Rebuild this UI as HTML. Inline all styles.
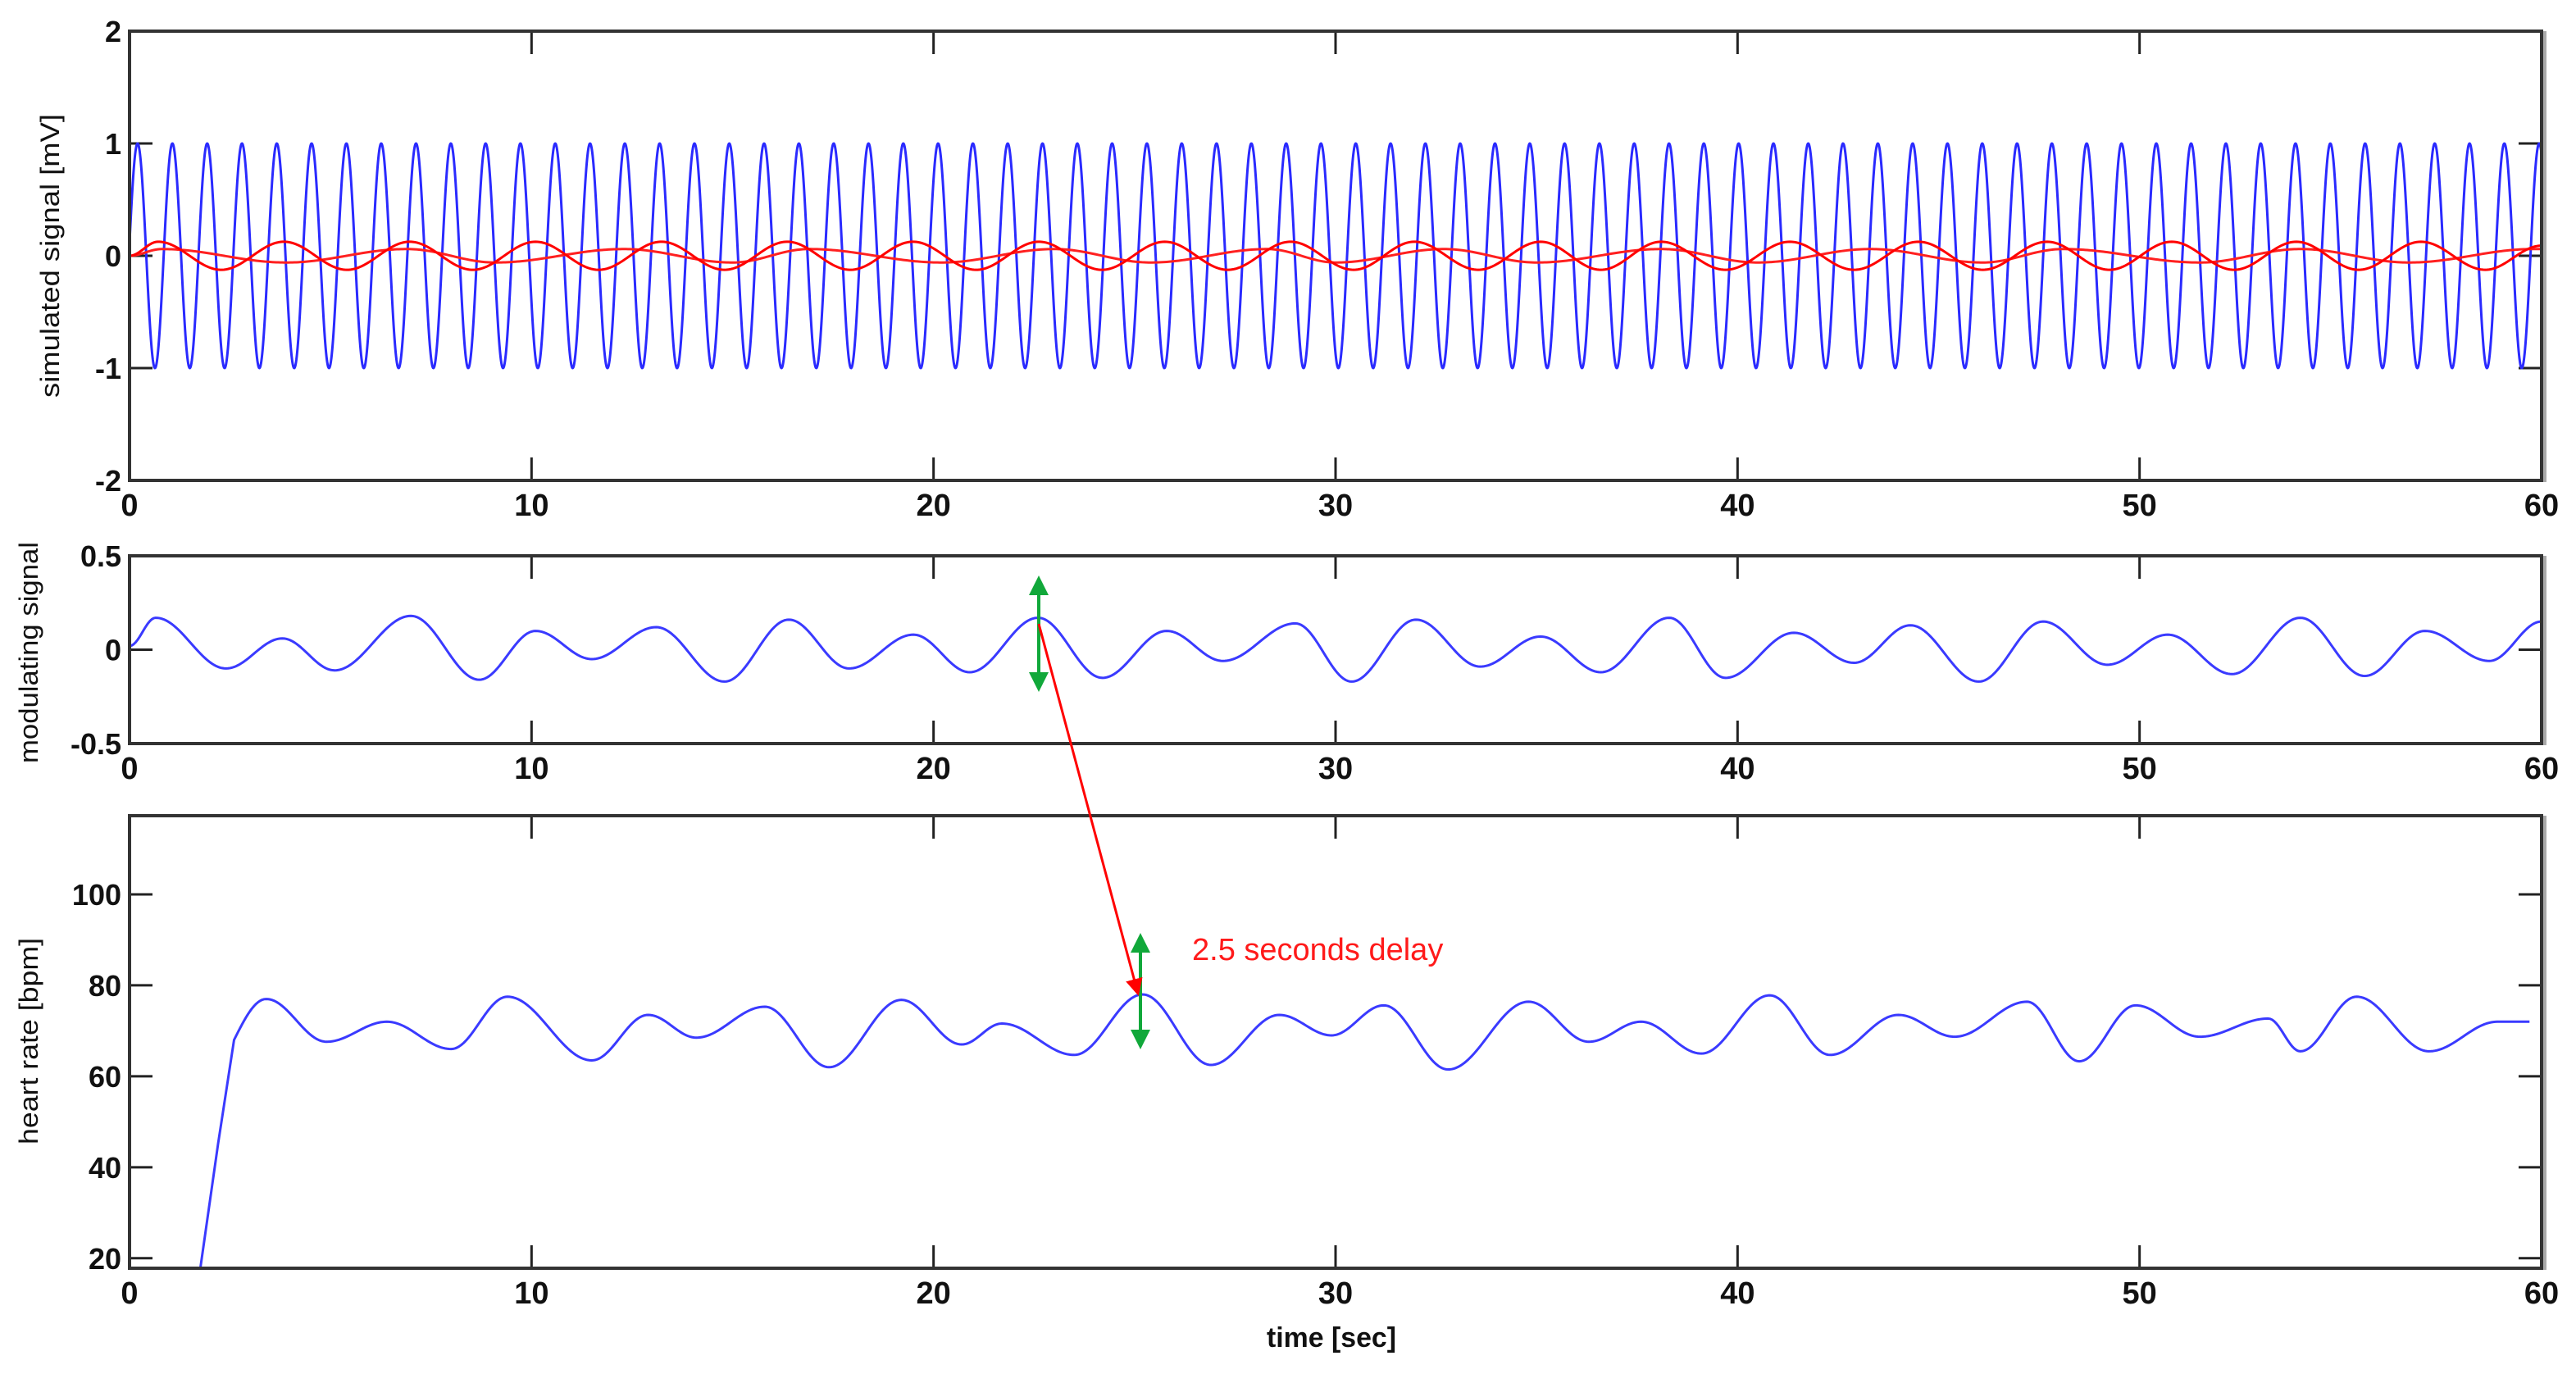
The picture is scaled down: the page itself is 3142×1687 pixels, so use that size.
<!DOCTYPE html>
<html><head><meta charset="utf-8"><style>
html,body{margin:0;padding:0;background:#fff;}
svg{display:block;}
text{font-family:"Liberation Sans",Arial,sans-serif;}
</style></head><body>
<svg id="chart" width="3142" height="1687" viewBox="0 0 3142 1687" xmlns="http://www.w3.org/2000/svg">
<rect width="3142" height="1687" fill="#fff"/>
<g id="g1"></g>
<g id="g2"></g>
<g id="g3"></g>
<g id="ann"></g>
</svg>
<script>
// ---------- data ----------
const xTicks = [0,10,20,30,40,50,60];
const yTicks1 = [2,1,0,-1,-2];
const yTicks2 = [0.5,0,-0.5];
const yTicks3 = [100,80,60,40,20];
// blue carrier parameters
const carrierFreqHz = [1.155];
const carrierPeakTime = [0.2];
const carrierAmp = [1.0];
// red component A (fast) extrema
const redAT = [0,0.71,2.28,3.84,5.41,6.97,8.54,10.1,11.67,13.23,14.8,16.36,17.93,19.49,21.06,22.62,24.19,25.75,27.32,28.88,30.45,31.96,33.55,35.1,36.6,38.1,39.7,41.3,42.9,44.5,46.1,47.7,49.25,50.8,52.35,53.9,55.45,57.0,58.6,60];
const redAV = [0,0.125,-0.125,0.125,-0.125,0.125,-0.125,0.125,-0.125,0.125,-0.125,0.125,-0.125,0.125,-0.125,0.125,-0.125,0.125,-0.125,0.125,-0.125,0.125,-0.125,0.125,-0.125,0.125,-0.125,0.125,-0.125,0.125,-0.125,0.125,-0.125,0.125,-0.125,0.125,-0.125,0.125,-0.125,0.09];
// red component B (slow) extrema
const redBT = [0,0.8,3.9,6.9,9.1,12.3,15.0,16.9,20.2,23.0,25.4,28.3,30.0,32.7,35.0,38.1,40.5,43.3,46.1,48.1,51.5,54.0,56.7,59.8,60];
const redBV = [0,0.06,-0.06,0.06,-0.06,0.06,-0.06,0.06,-0.06,0.06,-0.06,0.06,-0.06,0.06,-0.06,0.06,-0.06,0.06,-0.06,0.06,-0.06,0.06,-0.06,0.06,0.06];
// modulating signal extrema
const modT = [0,0.65,2.4,3.8,5.1,7.0,8.7,10.1,11.5,13.1,14.8,16.4,17.9,19.5,20.9,22.6,24.2,25.8,27.2,29.0,30.4,32.0,33.6,35.1,36.6,38.3,39.7,41.4,42.9,44.3,46.0,47.6,49.2,50.7,52.3,54.0,55.6,57.1,58.7,60];
const modV = [0.02,0.17,-0.1,0.06,-0.11,0.18,-0.16,0.1,-0.05,0.12,-0.17,0.16,-0.1,0.08,-0.12,0.17,-0.15,0.1,-0.06,0.14,-0.17,0.16,-0.09,0.07,-0.12,0.17,-0.15,0.09,-0.07,0.13,-0.17,0.15,-0.08,0.08,-0.13,0.17,-0.14,0.1,-0.06,0.15];
// heart rate points
const hrT = [1.7,2.2,2.6,3.4,4.9,6.4,8.0,9.4,11.5,12.9,14.1,15.8,17.4,19.2,20.7,21.7,23.5,25.2,26.9,28.6,29.9,31.2,32.8,34.8,36.3,37.6,39.1,40.8,42.3,44.0,45.4,47.2,48.5,49.9,51.5,53.2,54.0,55.4,57.2,58.9,59.7];
const hrV = [14,45,68,77,67.6,72,66,77.5,63.5,73.5,68.5,75.3,62,76.8,67,71.6,64.7,78,62.5,73.5,69,75.6,61.5,76.4,67.6,72,65,77.8,64.7,73.5,68.7,76.4,63.3,75.6,68.7,72.7,65.5,77.5,65.5,72,72];

// ---------- layout ----------
const X0=158, X1=3100;
const P1={top:38,bottom:586,ymin:-2,ymax:2};
const P2={top:678,bottom:907,ymin:-0.5,ymax:0.5};
const P3={top:995,bottom:1547,ymin:17.8,ymax:117.3};
const NS="http://www.w3.org/2000/svg";
const xs=t=>X0+(t-0)/(60-0)*(X1-X0);
const ysF=P=>v=>P.bottom-(v-P.ymin)/(P.ymax-P.ymin)*(P.bottom-P.top);

function mk(tag,attrs,parent){const e=document.createElementNS(NS,tag);for(const k in attrs)e.setAttribute(k,attrs[k]);parent.appendChild(e);return e;}

function interp(T,V,t,mode){
  if(t<=T[0])return V[0];
  for(let i=0;i<T.length-1;i++){
    if(t<=T[i+1]){const f=(t-T[i])/(T[i+1]-T[i]);
      const m=mode?mode(i):'cos';
      if(m==='lin')return V[i]+(V[i+1]-V[i])*f;
      if(m==='easeOut')return V[i]+(V[i+1]-V[i])*Math.sin(Math.PI/2*f);
      const g=(1-Math.cos(Math.PI*f))/2;return V[i]+(V[i+1]-V[i])*g;}
  }
  return V[V.length-1];
}

function axes(g,P,yTicks,yFmt,name){
  const ys=ysF(P);
  const clip=mk('clipPath',{id:'c'+name},g);
  mk('rect',{x:X0,y:P.top,width:X1-X0,height:P.bottom-P.top},clip);
  xTicks.forEach(t=>{
    const x=xs(t);
    const tk=mk('line',{x1:x,y1:P.bottom,x2:x,y2:P.bottom-28,stroke:'#222','stroke-width':3},g);
    
    
    const tk2=mk('line',{x1:x,y1:P.top,x2:x,y2:P.top+28,stroke:'#222','stroke-width':3},g);
    
    
    const lb=mk('text',{x:x,y:P.bottom+43,'text-anchor':'middle','font-size':38,'font-weight':'bold',fill:'#111'},g);
    lb.textContent=t;
    
    
  });
  yTicks.forEach(v=>{
    const y=ys(v);
    const tk=mk('line',{x1:X0,y1:y,x2:X0+28,y2:y,stroke:'#222','stroke-width':3},g);
    
    
    const tk2=mk('line',{x1:X1,y1:y,x2:X1-28,y2:y,stroke:'#222','stroke-width':3},g);
    
    
    const lb=mk('text',{x:X0-10,y:y+13,'text-anchor':'end','font-size':36,'font-weight':'bold',fill:'#111'},g);
    lb.textContent=yFmt(v);
    
    
  });
  return ys;
}
function frame(g,P){
  const r=mk('rect',{x:X0,y:P.top,width:X1-X0,height:P.bottom-P.top,fill:'none',stroke:'#333','stroke-width':4},g);
  
  
  const s=mk('line',{x1:X1+4,y1:P.top,x2:X1+4,y2:P.bottom+2,stroke:'#aaa','stroke-width':4},g);
  
  
}
function curve(g,fn,t0,t1,dt,ys,color,w,name,clipId){
  let d='';
  for(let t=t0;t<=t1+1e-9;t+=dt){d+=(d?'L':'M')+xs(t).toFixed(2)+','+ys(fn(t)).toFixed(2);}
  const p=mk('path',{d:d,fill:'none',stroke:color,'stroke-width':w,'stroke-linejoin':'round','clip-path':'url(#'+clipId+')'},g);
  
  
}
function ylabel(g,txt,cx,cy,len,name){
  const t=mk('text',{x:0,y:0,transform:'translate('+cx+','+cy+') rotate(-90)','text-anchor':'middle','font-size':32,fill:'#111',textLength:len,lengthAdjust:'spacingAndGlyphs'},g);
  t.textContent=txt;
  
  
}

// panel 1
const g1=document.getElementById('g1');
const ys1=axes(g1,P1,yTicks1,v=>String(v),'p1');
curve(g1,t=>carrierAmp[0]*Math.cos(2*Math.PI*carrierFreqHz[0]*(t-carrierPeakTime[0])),0,60,0.01,ys1,'#2a2aff',3,'simulated-signal-line','cp1');
curve(g1,t=>interp(redBT,redBV,t),0,60,0.05,ys1,'#ff2020',3,'modulating-component-slow','cp1');
curve(g1,t=>interp(redAT,redAV,t),0,60,0.05,ys1,'#ff0000',3,'modulating-component-fast','cp1');
frame(g1,P1);
ylabel(g1,'simulated signal [mV]',72,312,346,'y-axis-title-simulated');

// panel 2
const g2=document.getElementById('g2');
const ys2=axes(g2,P2,yTicks2,v=>String(v),'p2');
curve(g2,t=>interp(modT,modV,t),0,60,0.05,ys2,'#3a3aff',3,'modulating-signal-line','cp2');
frame(g2,P2);
ylabel(g2,'modulating signal',46,796,270,'y-axis-title-modulating');

// panel 3
const g3=document.getElementById('g3');
const ys3=axes(g3,P3,yTicks3,v=>String(v),'p3');
curve(g3,t=>interp(hrT,hrV,t,i=>i<1?'lin':(i===1?'lin':(i===2?'easeOut':'cos'))),1.7,59.7,0.05,ys3,'#3a3aff',3,'heart-rate-line','cp3');
frame(g3,P3);
ylabel(g3,'heart rate [bpm]',46,1270,252,'y-axis-title-heart-rate');
const xt=mk('text',{x:1624,y:1643,'text-anchor':'middle','font-size':34,'font-weight':'bold',fill:'#111',textLength:158,lengthAdjust:'spacingAndGlyphs'},g3);
xt.textContent='time [sec]';



// annotation
const ann=document.getElementById('ann');
const defs=mk('defs',{},ann);
const mG=mk('marker',{id:'ag',markerWidth:6,markerHeight:6,refX:5,refY:3,orient:'auto-start-reverse',markerUnits:'strokeWidth'},defs);
mk('path',{d:'M0,0 L6,3 L0,6 z',fill:'#11a83a'},mG);
const mR=mk('marker',{id:'ar',markerWidth:7,markerHeight:7,refX:6,refY:3.5,orient:'auto',markerUnits:'strokeWidth'},defs);
mk('path',{d:'M0,0 L7,3.5 L0,7 z',fill:'#ff0000'},mR);
const ga=mk('line',{x1:1267,y1:706,x2:1267,y2:840,stroke:'#11a83a','stroke-width':4,'marker-start':'url(#ag)','marker-end':'url(#ag)'},ann);


const gb=mk('line',{x1:1391,y1:1142,x2:1391,y2:1276,stroke:'#11a83a','stroke-width':4,'marker-start':'url(#ag)','marker-end':'url(#ag)'},ann);


const ra=mk('line',{x1:1267,y1:761,x2:1388,y2:1212,stroke:'#ff0000','stroke-width':3,'marker-end':'url(#ar)'},ann);


const at=mk('text',{x:1454,y:1171,'font-size':38,fill:'#ff1a1a'},ann);
at.textContent='2.5 seconds delay';


</script>
</body></html>
